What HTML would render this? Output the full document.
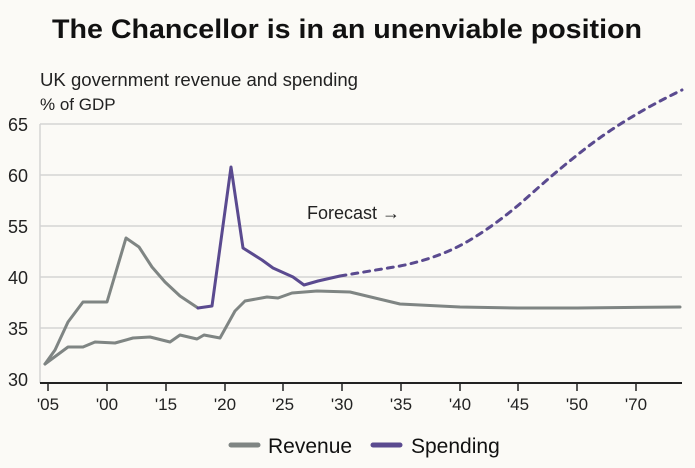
<!DOCTYPE html>
<html><head><meta charset="utf-8"><style>
html,body{margin:0;padding:0;background:#fbfaf6;}
svg{display:block;font-family:"Liberation Sans",sans-serif;}
</style></head><body>
<svg width="695" height="468" viewBox="0 0 695 468" xmlns="http://www.w3.org/2000/svg">
<rect width="695" height="468" fill="#fbfaf6"/>
<text x="347" y="38" text-anchor="middle" font-size="27" font-weight="bold" fill="#111" textLength="590" lengthAdjust="spacingAndGlyphs">The Chancellor is in an unenviable position</text>
<text x="40" y="86" font-size="18" fill="#222" textLength="318" lengthAdjust="spacingAndGlyphs">UK government revenue and spending</text>
<text x="40" y="110" font-size="17" fill="#222">% of GDP</text>
<g stroke="#d4d4d4" stroke-width="1.5">
<line x1="40" y1="124" x2="682" y2="124"/>
<line x1="40" y1="175" x2="682" y2="175"/>
<line x1="40" y1="226" x2="682" y2="226"/>
<line x1="40" y1="277" x2="682" y2="277"/>
<line x1="40" y1="328" x2="682" y2="328"/>
<line x1="40" y1="124" x2="40" y2="383"/>
</g>
<g font-size="18" fill="#222">
<text x="8" y="131">65</text><text x="8" y="182">60</text><text x="8" y="233">55</text>
<text x="8" y="284">40</text><text x="8" y="335">35</text><text x="8" y="386">30</text>
</g>
<line x1="40" y1="383" x2="682" y2="383" stroke="#222" stroke-width="2"/>
<g stroke="#222" stroke-width="1.5">
<line x1="48" y1="383" x2="48" y2="391"/><line x1="107" y1="383" x2="107" y2="391"/>
<line x1="166" y1="383" x2="166" y2="391"/><line x1="225" y1="383" x2="225" y2="391"/>
<line x1="283" y1="383" x2="283" y2="391"/><line x1="342" y1="383" x2="342" y2="391"/>
<line x1="401" y1="383" x2="401" y2="391"/><line x1="460" y1="383" x2="460" y2="391"/>
<line x1="518" y1="383" x2="518" y2="391"/><line x1="577" y1="383" x2="577" y2="391"/>
<line x1="636" y1="383" x2="636" y2="391"/>
</g>
<g font-size="17" fill="#222" text-anchor="middle">
<text x="48" y="410">'05</text><text x="107" y="410">'00</text><text x="166" y="410">'15</text>
<text x="225" y="410">'20</text><text x="283" y="410">'25</text><text x="342" y="410">'30</text>
<text x="401" y="410">'35</text><text x="460" y="410">'40</text><text x="518" y="410">'45</text>
<text x="577" y="410">'50</text><text x="636" y="410">'70</text>
</g>
<g fill="none" stroke-linejoin="round" stroke-linecap="round" stroke-width="3">
<polyline stroke="#7f8583" points="45,364 55,350 68,322 83,302 107,302 126,238 139,247 152,267 165,282 180,296 198,308"/>
<polyline stroke="#7f8583" points="45,364 68,347 83,347 95,342 115,343 133,338 150,337 170,342 180,335 197,339 204,335 220,338 235,311 245,301 267,297 278,298 292,293 317,291 350,292 400,304 460,307 518,308 577,308 680,307"/>
<polyline stroke="#5a4a8f" points="198,308 212,306 231,167 243,248 262,260 273,268 293,277 304,285 318,281 340,276"/>
<path stroke="#5a4a8f" stroke-dasharray="6,6" d="M340,276 L400,266 Q440,258 470,240 Q500,222 530,195 Q560,168 590,145 Q630,115 682,90"/>
</g>
<text x="307" y="219" font-size="18" fill="#222">Forecast →</text>
<line x1="231" y1="445" x2="258" y2="445" stroke="#7f8583" stroke-width="5" stroke-linecap="round"/>
<text x="268" y="453" font-size="21" fill="#111">Revenue</text>
<line x1="373" y1="445" x2="400" y2="445" stroke="#5a4a8f" stroke-width="5" stroke-linecap="round"/>
<text x="411" y="453" font-size="21" fill="#111">Spending</text>
</svg>
</body></html>
